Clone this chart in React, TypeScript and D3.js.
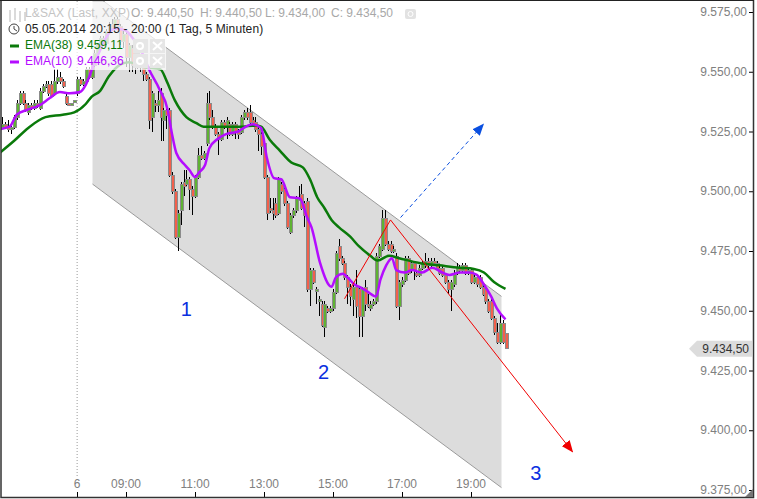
import React from 'react';
import * as d3 from 'd3';

// 5 minute bars
const opens = [
  9528,9527,9528,9527,9526,9527,9531,9537,9541,9537,
  9533,9536,9535,9537,9535,9542,9544,9545,9545,9541,
  9546,9548,9546,9540,9537,9537,9538,9541,9547,9545,
  9546,9551,9548,9553,9558,9561,9564,9562,9567,9570,
  9568,9572,9569,9563,9566,9556,9560,9553,9558,9555,
  9552,9549,9547,9531,9537,9536,9541,9530,9534,9534,
  9507,9500,9481,9492,9504,9503,9505,9501,9498,9506,
  9515,9514,9520,9537,9531,9527,9524,9522,9529,9527,
  9528,9524,9528,9525,9525,9531,9533,9533,9530,9529,
  9526,9524,9520,9506,9493,9492,9495,9491,9503,9501,
  9495,9483,9490,9492,9497,9499,9495,9496,9459,9467,
  9459,9455,9453,9443,9451,9450,9451,9458,9477,9472,
  9470,9464,9460,9455,9460,9459,9448,9460,9453,9451,
  9453,9454,9473,9476,9489,9478,9478,9475,9473,9452,
  9461,9463,9472,9467,9470,9466,9465,9468,9469,9471,
  9469,9471,9470,9468,9468,9465,9462,9459,9461,9466,
  9468,9467,9469,9466,9467,9462,9464,9464,9460,9459,
  9454,9454,9447,9441,9437,9445,9440.5,
];
const highs = [
  9529,9531,9529,9530,9528,9532,9538,9542,9542,9538,
  9537,9537,9538,9538,9543,9545,9546,9546,9546,9551,
  9551,9550,9547,9541,9537,9537,9538,9548,9548,9547,
  9552,9552,9554,9559,9562,9565,9565,9568,9571,9572,
  9573,9573,9570,9567,9567,9562,9561,9559,9559,9556,
  9553,9550,9548,9542,9538,9542,9543,9535,9535,9535,
  9508,9501,9492,9504,9509,9509,9506,9502,9507,9518,
  9519,9517,9541,9542,9534,9528,9525,9530,9530,9531,
  9529,9529,9529,9526,9532,9534,9535,9536,9531,9531,
  9527,9525,9521,9507,9497,9497,9497,9506,9504,9502,
  9496,9491,9493,9498,9502,9503,9496,9497,9468,9468,
  9460,9456,9454,9454,9452,9452,9459,9475,9480,9473,
  9471,9465,9461,9461,9467,9460,9460,9463,9457,9454,
  9455,9474,9478,9492,9492,9479,9479,9477,9474,9463,
  9464,9473,9473,9471,9471,9467,9469,9471,9474,9472,
  9472,9472,9471,9469,9469,9466,9463,9463,9467,9470,
  9469,9470,9470,9468,9468,9465,9465,9465,9461,9460,
  9455,9455,9448,9445,9449,9446,9440.5,
];
const lows = [
  9525,9526,9526,9525,9524,9526,9530,9536,9536,9533,
  9532,9534,9534,9535,9534,9541,9543,9540,9539,9540,
  9545,9545,9543,9536,9536,9536,9537,9540,9544,9544,
  9545,9547,9547,9552,9557,9560,9561,9561,9566,9567,
  9567,9568,9561,9560,9552,9550,9550,9549,9551,9550,
  9546,9546,9526,9525,9533,9533,9521,9521,9526,9506,
  9499,9480,9475,9486,9498,9502,9492,9490,9497,9505,
  9513,9513,9519,9530,9526,9523,9515,9521,9526,9522,
  9523,9523,9522,9522,9524,9530,9530,9528,9527,9525,
  9517,9515,9505,9488,9491,9488,9489,9490,9499,9494,
  9484,9482,9489,9491,9496,9492,9485,9458,9452,9461,
  9453,9448,9443,9439,9449,9449,9450,9457,9471,9469,
  9463,9453,9452,9448,9447,9439,9439,9450,9451,9450,
  9452,9453,9472,9475,9477,9475,9474,9474,9451,9446,
  9460,9462,9465,9466,9463,9464,9464,9467,9468,9468,
  9468,9469,9467,9465,9464,9461,9457,9450,9460,9465,
  9466,9466,9465,9465,9461,9461,9460,9459,9456,9453,
  9449,9446,9440,9436,9436,9436,9434,
];
const closes = [
  9527,9528,9527,9526,9527,9531,9537,9541,9537,9534,
  9536,9535,9537,9536,9542,9544,9545,9541,9540,9546,
  9548,9546,9544,9537,9536,9537,9538,9547,9545,9546,
  9551,9548,9553,9558,9561,9564,9562,9567,9570,9568,
  9572,9569,9563,9566,9556,9561,9553,9558,9555,9552,
  9549,9547,9530,9541,9536,9538,9531,9534,9532,9507,
  9500,9481,9491,9503,9502,9505,9501,9498,9506,9515,
  9514,9516,9537,9531,9527,9524,9522,9529,9527,9530,
  9524,9528,9525,9524,9531,9533,9531,9529,9528,9526,
  9524,9519,9506,9491,9492,9491,9490,9505,9500,9495,
  9485,9490,9492,9497,9497,9493,9490,9459,9467,9462,
  9459,9455,9444,9453,9450,9451,9458,9474,9472,9470,
  9464,9460,9456,9460,9452,9448,9459,9453,9452,9453,
  9454,9473,9477,9489,9478,9476,9475,9476,9452,9462,
  9463,9472,9466,9470,9467,9465,9468,9470,9471,9469,
  9471,9470,9468,9466,9465,9462,9459,9462,9466,9468,
  9467,9469,9466,9467,9462,9464,9461,9460,9457,9454,
  9450,9447,9441,9437,9445,9437,9434.5,
];

// moving averages, sampled as [bar, price]
const emaSlow: [number, number][] = [
  [0,9516],[5,9521],[10,9526.5],[16,9531],[22,9532],[26,9533],[30,9536.5],[32,9539.5],[35,9542],
  [38,9548],[42,9553],[45,9554],[50,9552],[56,9551],[58,9546.5],[61,9538],[65,9531],[68.5,9528.5],
  [71,9527],[76.5,9527],[83.5,9527],[89,9527.5],[91,9527],[94,9521.5],[97.5,9517],[101.5,9512],
  [105.5,9510],[108,9505],[110.5,9497.5],[113,9493],[115.5,9488],[118,9485],[122,9481],[125,9477],
  [129,9473],[131.5,9471],[135.5,9473],[139,9472],[146,9470],[153,9469],[160,9468],[165,9467.5],
  [168.5,9466],[172,9462],[176,9459.11],
];
const emaFast: [number, number][] = [
  [0,9526],[3.5,9527],[6,9532],[9.5,9534],[14,9536],[17.5,9539],[21,9541.5],[24.5,9541],[28,9541.5],
  [30,9544.5],[32.5,9552],[35,9559],[36.5,9563],[40,9568],[43.5,9567.5],[47,9563],[50,9557],[52,9551],
  [55.5,9543],[58.5,9534],[60,9524],[61.5,9516],[64.5,9511],[66,9509],[68,9506],[69.5,9508],[71.5,9511],
  [73,9518],[76,9522],[79,9524],[83,9525],[85,9526.5],[88,9528],[91,9526.5],[93,9514],[95.5,9505.5],
  [98,9505],[101,9497.5],[104.5,9497],[107,9489],[108.5,9485],[111.5,9470],[115.5,9460],[117,9464],
  [119.5,9465.5],[121,9464],[123.5,9461],[126,9459.5],[128,9458],[131,9456],[132.5,9463],[134.5,9469],
  [136.5,9472],[138,9467],[141,9466],[143.5,9467],[147,9466],[150.5,9468],[154,9466],[156.5,9465],
  [160,9466],[163.5,9466],[166,9465],[168.5,9461],[171,9456],[173,9451],[176,9446.36],
];

const priceTicks = [9575, 9550, 9525, 9500, 9475, 9450, 9425, 9400, 9375];
const timeTicks: [number, string][] = [
  [27, '6'], [44, '09:00'], [68, '11:00'], [92, '13:00'], [116, '15:00'], [140, '17:00'], [164, '19:00'],
];

// drawing tools, [bar, price]
const channelTop: [number, number][] = [[32.35, 9583], [174.6, 9456]];
const channelBottom: [number, number][] = [[32.35, 9503], [174.6, 9376]];
const blueArrow: [number, number][] = [[139.5, 9489], [168.3, 9528]];
const redLine: [number, number][] = [[120, 9455], [136, 9488], [199.3, 9391]];
const waveLabels: [number, number, string][] = [[65, 9448, '1'], [112.7, 9421.5, '2'], [186.5, 9379, '3']];

const lastPrice = 9434.5;

const W = 757;
const H = 499;
const FONT = '"Liberation Sans", Arial, sans-serif';
const GREEN = '#0a7a0a';
const PURPLE = '#b40dff';

const de = d3.formatLocale({ decimal: ',', thousands: '.', grouping: [3], currency: ['', ''] });
const fmt = de.format(',.2f');

const x = d3.scaleLinear().domain([0, 176]).range([-0.5, 505.5]);
const y = d3.scaleLinear().domain([9375, 9575]).range([490, 12]);

const line = d3.line<[number, number]>().x(d => x(d[0])).y(d => y(d[1]));
const smooth = d3.line<[number, number]>().x(d => x(d[0])).y(d => y(d[1])).curve(d3.curveMonotoneX);

const channel = [...channelTop, ...channelBottom.slice().reverse()];

function LegendButtons({ cy }: { cy: number }) {
  return (
    <g>
      <rect x={133} y={cy - 7} width={15} height={14} fill="#e6e6e6" />
      <circle cx={140} cy={cy} r={3} fill="none" stroke="#fff" strokeWidth={2} />
      <rect x={150} y={cy - 7} width={15} height={14} fill="#e6e6e6" />
      <path d={`M153,${cy - 4}L162,${cy + 4}M162,${cy - 4}L153,${cy + 4}`} stroke="#fff" strokeWidth={2} />
    </g>
  );
}

export default function App() {
  const bars = d3.range(opens.length);
  const lastY = y(lastPrice);
  return (
    <svg width={W} height={H} style={{ position: 'absolute', left: 0, top: 0, background: '#fff' }} fontFamily={FONT}>
      <defs>
        <clipPath id="plot"><rect x={1} y={1} width={752} height={496} /></clipPath>
        <marker id="headBlue" viewBox="0 0 12 10" refX={11} refY={5} markerWidth={12} markerHeight={10} markerUnits="userSpaceOnUse" orient="auto">
          <path d="M0,0L12,5L0,10Z" fill="#0a4fe0" />
        </marker>
        <marker id="headRed" viewBox="0 0 12 10" refX={11} refY={5} markerWidth={12} markerHeight={10} markerUnits="userSpaceOnUse" orient="auto">
          <path d="M0,0L12,5L0,10Z" fill="#f00000" />
        </marker>
      </defs>

      <g clipPath="url(#plot)">
        <path d={`${line(channel)}Z`} fill="#dcdcdc" />
        <path d={line(channelTop)!} fill="none" stroke="#9a9a9a" />
        <path d={line(channelBottom)!} fill="none" stroke="#9a9a9a" />
        <line x1={x(27)} x2={x(27)} y1={1} y2={478} stroke="#9a9a9a" strokeDasharray="1 2" />

        {bars.map(i => {
          const cx = Math.round(x(i));
          const top = Math.round(y(Math.max(opens[i], closes[i])));
          const bottom = Math.round(y(Math.min(opens[i], closes[i])));
          const h = Math.max(bottom - top, 2);
          return (
            <g key={i} shapeRendering="crispEdges">
              <line x1={cx + 0.5} x2={cx + 0.5} y1={y(highs[i])} y2={y(lows[i])} stroke="#000" />
              <rect x={cx - 1} y={top} width={4} height={h + 1} fill="#8b8b8b" />
              <rect x={cx} y={top + 1} width={2} height={h - 1} fill={closes[i] >= opens[i] ? '#5fb233' : '#f2604c'} />
            </g>
          );
        })}

        <path d={smooth(emaSlow)!} fill="none" stroke={GREEN} strokeWidth={2.5} />
        <path d={smooth(emaFast)!} fill="none" stroke={PURPLE} strokeWidth={2.5} />

        <path d={line(redLine)!} fill="none" stroke="#f00000" markerEnd="url(#headRed)" />
        <path d={line(blueArrow)!} fill="none" stroke="#0a4fe0" strokeDasharray="4 3" markerEnd="url(#headBlue)" />

        {waveLabels.map(d => (
          <text key={d[2]} x={x(d[0])} y={y(d[1])} fill="#0a2fe0" fontSize={20} textAnchor="middle">{d[2]}</text>
        ))}
      </g>

      {/* legend sits on a veil over the chart */}
      <rect x={2} y={2} width={164} height={68} fill="#fff" opacity={0.72} />
      <g stroke="#b5b5b5" strokeWidth={1} fill="none">
        <path d="M10,10V22M15,8V20M20,11V22M25,12V21" />
      </g>
      <text x={25} y={17} fontSize={12} fill="#c4c4c4" letterSpacing={0.1}>L&amp;SAX (Last, XXP)</text>
      <text x={131} y={17} fontSize={12} fill="#a8a8a8">O: 9.440,50</text>
      <text x={200} y={17} fontSize={12} fill="#a8a8a8">H: 9.440,50</text>
      <text x={265} y={17} fontSize={12} fill="#a8a8a8">L: 9.434,00</text>
      <text x={331} y={17} fontSize={12} fill="#a8a8a8">C: 9.434,50</text>
      <rect x={405} y={9} width={11} height={10} rx={2} fill="#e2e2e2" />
      <circle cx={410.5} cy={14} r={2.5} fill="none" stroke="#fff" />

      <circle cx={14} cy={29} r={5} fill="none" stroke="#444" />
      <path d="M14,26V29L17,31" fill="none" stroke="#444" />
      <text x={25} y={33} fontSize={12} fill="#222" letterSpacing={0.1}>05.05.2014 20:15 - 20:00 (1 Tag, 5 Minuten)</text>

      <line x1={10} x2={19} y1={46} y2={46} stroke={GREEN} strokeWidth={3} />
      <text x={25} y={49} fontSize={12} fill={GREEN}>EMA(38)</text>
      <text x={77} y={49} fontSize={12} fill={GREEN}>9.459,11</text>
      <LegendButtons cy={46} />
      <line x1={10} x2={19} y1={62} y2={62} stroke={PURPLE} strokeWidth={3} />
      <text x={25} y={65} fontSize={12} fill={PURPLE}>EMA(10)</text>
      <text x={77} y={65} fontSize={12} fill={PURPLE}>9.446,36</text>
      <LegendButtons cy={61} />

      {/* price axis */}
      {priceTicks.map(t => (
        <g key={t}>
          <line x1={749} x2={753} y1={y(t) + 0.5} y2={y(t) + 0.5} stroke="#000" />
          <text x={747} y={y(t) + 4} fontSize={12} fill="#808080" textAnchor="end">{fmt(t)}</text>
        </g>
      ))}
      <path d={`M689,${lastY + 1}L697,${lastY - 7}H752V${lastY + 9}H697Z`} fill="#dcdcdc" />
      <text x={749} y={lastY + 5} fontSize={12} fill="#333" textAnchor="end">{fmt(lastPrice)}</text>

      {/* time axis */}
      {timeTicks.map(d => (
        <g key={d[1]}>
          <line x1={Math.round(x(d[0])) + 0.5} x2={Math.round(x(d[0])) + 0.5} y1={492} y2={497} stroke="#000" />
          <text x={x(d[0])} y={488} fontSize={12} fill="#808080" textAnchor="middle">{d[1]}</text>
        </g>
      ))}

      {/* frame */}
      <path d="M1,0V497.5H753.5V0" fill="none" stroke="#333" strokeWidth={1.5} />
      <line x1={0} x2={754} y1={0.5} y2={0.5} stroke="#222" />
      <path d="M745,497L753,489V497Z" fill="#777" />
    </svg>
  );
}
